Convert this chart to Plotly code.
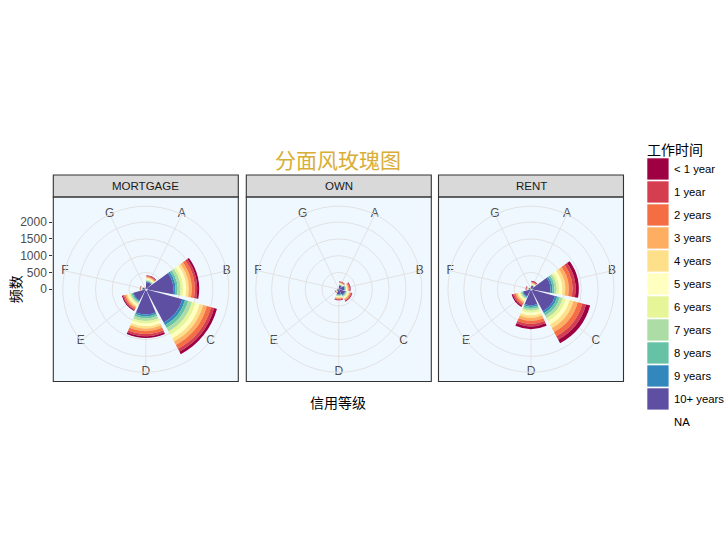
import plotly.graph_objects as go

# ---------------- data ----------------
grades = ["A", "B", "C", "D", "E", "F", "G"]
emp_levels = ["< 1 year", "1 year", "2 years", "3 years", "4 years", "5 years",
              "6 years", "7 years", "8 years", "9 years", "10+ years", "NA"]
emp_colors = ["#9E0142", "#D53E4F", "#F46D43", "#FDAE61", "#FEE08B", "#FFFFBF",
              "#E6F598", "#ABDDA4", "#66C2A5", "#3288BD", "#5E4FA2", "rgba(0,0,0,0)"]
facets = ["MORTGAGE", "OWN", "RENT"]
y_ticks = [0, 500, 1000, 1500, 2000]

# rows = emp_levels, columns = grades A..G
mortgage = [
    [16, 62, 86, 56, 29, 7, 2],
    [18, 69, 96, 63, 32, 8, 3],
    [24, 92, 128, 84, 43, 10, 3],
    [22, 85, 118, 77, 39, 9, 3],
    [20, 77, 107, 70, 36, 9, 3],
    [24, 92, 128, 84, 43, 10, 3],
    [20, 77, 107, 70, 36, 9, 3],
    [22, 85, 118, 77, 39, 9, 3],
    [18, 69, 96, 63, 32, 8, 3],
    [16, 62, 86, 56, 29, 7, 2],
    [205, 770, 1070, 705, 357, 86, 29],
    [15, 50, 60, 45, 25, 8, 3],
]
own = [
    [10, 15, 18, 14, 6, 2, 1],
    [12, 17, 20, 16, 6, 2, 1],
    [15, 22, 26, 20, 8, 2, 1],
    [14, 20, 24, 19, 7, 2, 1],
    [12, 18, 22, 17, 7, 2, 1],
    [15, 22, 26, 20, 8, 2, 1],
    [12, 18, 22, 17, 7, 2, 1],
    [14, 20, 24, 19, 7, 2, 1],
    [12, 17, 20, 16, 6, 2, 1],
    [10, 15, 18, 14, 6, 2, 1],
    [106, 154, 185, 146, 57, 18, 4],
    [8, 12, 15, 12, 5, 2, 1],
]
rent = [
    [17, 97, 125, 81, 41, 11, 4],
    [16, 90, 116, 75, 38, 10, 3],
    [19, 111, 142, 92, 46, 12, 4],
    [18, 104, 134, 86, 43, 12, 4],
    [16, 90, 116, 75, 38, 10, 3],
    [16, 90, 116, 75, 38, 10, 3],
    [13, 76, 98, 63, 32, 8, 3],
    [12, 69, 89, 58, 29, 8, 3],
    [11, 62, 80, 52, 26, 7, 2],
    [10, 55, 71, 46, 23, 6, 2],
    [92, 541, 693, 447, 226, 60, 22],
    [10, 40, 50, 35, 20, 6, 2],
]
facet_data = [mortgage, own, rent]

# ---------------- geometry (pixels) ----------------
W, H = 725, 557
panel_left = [53.3, 246.3, 438.5]
panel_w = 185.0
panel_top, panel_bottom = 197.0, 381.5
strip_top = 175.0
ph = min(panel_w, panel_bottom - panel_top)
r_outer = 0.45 * ph
cy = (panel_top + panel_bottom) / 2


def px(x):
    return x / W


def py(y):
    return 1 - y / H


FONT = "Liberation Sans, Arial, Noto Sans CJK SC"
CJK = "Noto Sans CJK SC, Liberation Sans"
grid_col = "#E2E2E2"
dark = "#333333"

n = len(grades)
step = 360.0 / n
theta_c = [(i + 0.5) * step for i in range(n)]
bar_w = 0.9 * step

# max stacked total across facets (fixed scales)
r_max = max(sum(row[j] for row in d) for d in facet_data for j in range(n))
r_range = r_max * 0.45 / 0.4

fig = go.Figure()
shapes = []
annotations = []
layout_polars = {}

for k, (fname, data) in enumerate(zip(facets, facet_data)):
    pname = "polar" if k == 0 else f"polar{k+1}"
    x0 = panel_left[k]
    x1 = x0 + panel_w
    cx = (x0 + x1) / 2
    # stacked bars: innermost first (NA, 10+, ..., < 1 year)
    for li in range(len(emp_levels) - 1, -1, -1):
        fig.add_trace(go.Barpolar(
            r=data[li], theta=theta_c, width=[bar_w] * n,
            marker=dict(color=emp_colors[li], line=dict(width=0)),
            name=emp_levels[li], showlegend=False, subplot=pname,
            hoverinfo="skip"))
    # theta labels on outer circle
    fig.add_trace(go.Scatterpolar(
        r=[r_range] * n, theta=theta_c, mode="text", text=grades,
        textfont=dict(family=FONT, size=12, color="#4D4D4D"),
        cliponaxis=False, showlegend=False, subplot=pname, hoverinfo="skip"))
    layout_polars[pname] = dict(
        domain=dict(x=[px(cx - r_outer), px(cx + r_outer)],
                    y=[py(cy + r_outer), py(cy - r_outer)]),
        bgcolor="rgba(0,0,0,0)",
        barmode="stack",
        angularaxis=dict(type="linear", thetaunit="degrees", rotation=90,
                         direction="clockwise", tickmode="array",
                         tickvals=theta_c, ticktext=grades,
                         showticklabels=False, ticks="",
                         showgrid=True, gridcolor=grid_col, gridwidth=1,
                         showline=True, linecolor=grid_col, linewidth=1),
        radialaxis=dict(range=[0, r_range], tickmode="array",
                        tickvals=y_ticks[1:], showticklabels=False, ticks="",
                        showline=False, showgrid=True, gridcolor=grid_col,
                        gridwidth=1),
    )
    # panel background, border, strip
    shapes.append(dict(type="rect", xref="paper", yref="paper", layer="below",
                       x0=px(x0), x1=px(x1), y0=py(panel_bottom), y1=py(panel_top),
                       fillcolor="#F0F8FF", line=dict(width=0)))
    shapes.append(dict(type="rect", xref="paper", yref="paper", layer="above",
                       x0=px(x0), x1=px(x1), y0=py(panel_bottom), y1=py(panel_top),
                       fillcolor="rgba(0,0,0,0)", line=dict(color=dark, width=1.1)))
    shapes.append(dict(type="rect", xref="paper", yref="paper", layer="below",
                       x0=px(x0), x1=px(x1), y0=py(panel_top), y1=py(strip_top),
                       fillcolor="#D9D9D9", line=dict(color=dark, width=1.1)))
    annotations.append(dict(text=fname, xref="paper", yref="paper",
                            x=px(cx), y=py((strip_top + panel_top) / 2),
                            showarrow=False, xanchor="center", yanchor="middle",
                            font=dict(family=FONT, size=11.5, color="#1A1A1A")))

# left radial-count axis (cartesian axis aligned with first polar panel)
fig.add_trace(go.Scatter(x=[0], y=[0], mode="markers", marker=dict(opacity=0),
                         showlegend=False, hoverinfo="skip", xaxis="x", yaxis="y"))

layout = dict(
    width=W, height=H, margin=dict(l=0, r=0, t=0, b=0),
    paper_bgcolor="white", plot_bgcolor="rgba(0,0,0,0)",
    showlegend=False,
    xaxis=dict(domain=[px(panel_left[0]), px(panel_left[0] + panel_w)],
               range=[-1, 1], visible=False, fixedrange=True),
    yaxis=dict(domain=[py(cy + r_outer), py(cy - r_outer)],
               range=[-r_range, r_range], tickmode="array", tickvals=y_ticks,
               ticks="outside", ticklen=3, tickwidth=1, tickcolor=dark,
               tickfont=dict(family=FONT, size=12, color="#4D4D4D"),
               showgrid=False, zeroline=False, showline=False, fixedrange=True),
    font=dict(family=FONT),
)
layout.update(layout_polars)

mid_x = (panel_left[0] + panel_left[-1] + panel_w) / 2
# titles
annotations.append(dict(text="分面风玫瑰图", xref="paper", yref="paper",
                        x=px(mid_x), y=py(159),
                        showarrow=False, xanchor="center", yanchor="middle",
                        font=dict(family=CJK, size=21, color="#D9AE36")))
annotations.append(dict(text="信用等级", xref="paper", yref="paper",
                        x=px(mid_x), y=py(402),
                        showarrow=False, xanchor="center", yanchor="middle",
                        font=dict(family=CJK, size=14, color="black")))
annotations.append(dict(text="频数", xref="paper", yref="paper",
                        x=px(15), y=py(cy), textangle=-90,
                        showarrow=False, xanchor="center", yanchor="middle",
                        font=dict(family=CJK, size=14, color="black")))

# legend (guide) built from emp levels / colours
leg_x0, leg_top, key, pitch = 647.3, 158.3, 21.3, 23.0
annotations.append(dict(text="工作时间", xref="paper", yref="paper",
                        x=px(645), y=py(149), showarrow=False,
                        xanchor="left", yanchor="middle",
                        font=dict(family=CJK, size=14, color="black")))
for i, (lab, col) in enumerate(zip(emp_levels, emp_colors)):
    y0 = leg_top + i * pitch
    if lab != "NA":
        shapes.append(dict(type="rect", xref="paper", yref="paper",
                           x0=px(leg_x0), x1=px(leg_x0 + key),
                           y0=py(y0 + key), y1=py(y0),
                           fillcolor=col, line=dict(width=0)))
    annotations.append(dict(text=lab, xref="paper", yref="paper",
                            x=px(671.5), y=py(y0 + key / 2), showarrow=False,
                            xanchor="left", yanchor="middle",
                            font=dict(family=FONT, size=11.3, color="black")))

layout["shapes"] = shapes
layout["annotations"] = annotations
fig.update_layout(**layout)
fig.write_html("out.html")
